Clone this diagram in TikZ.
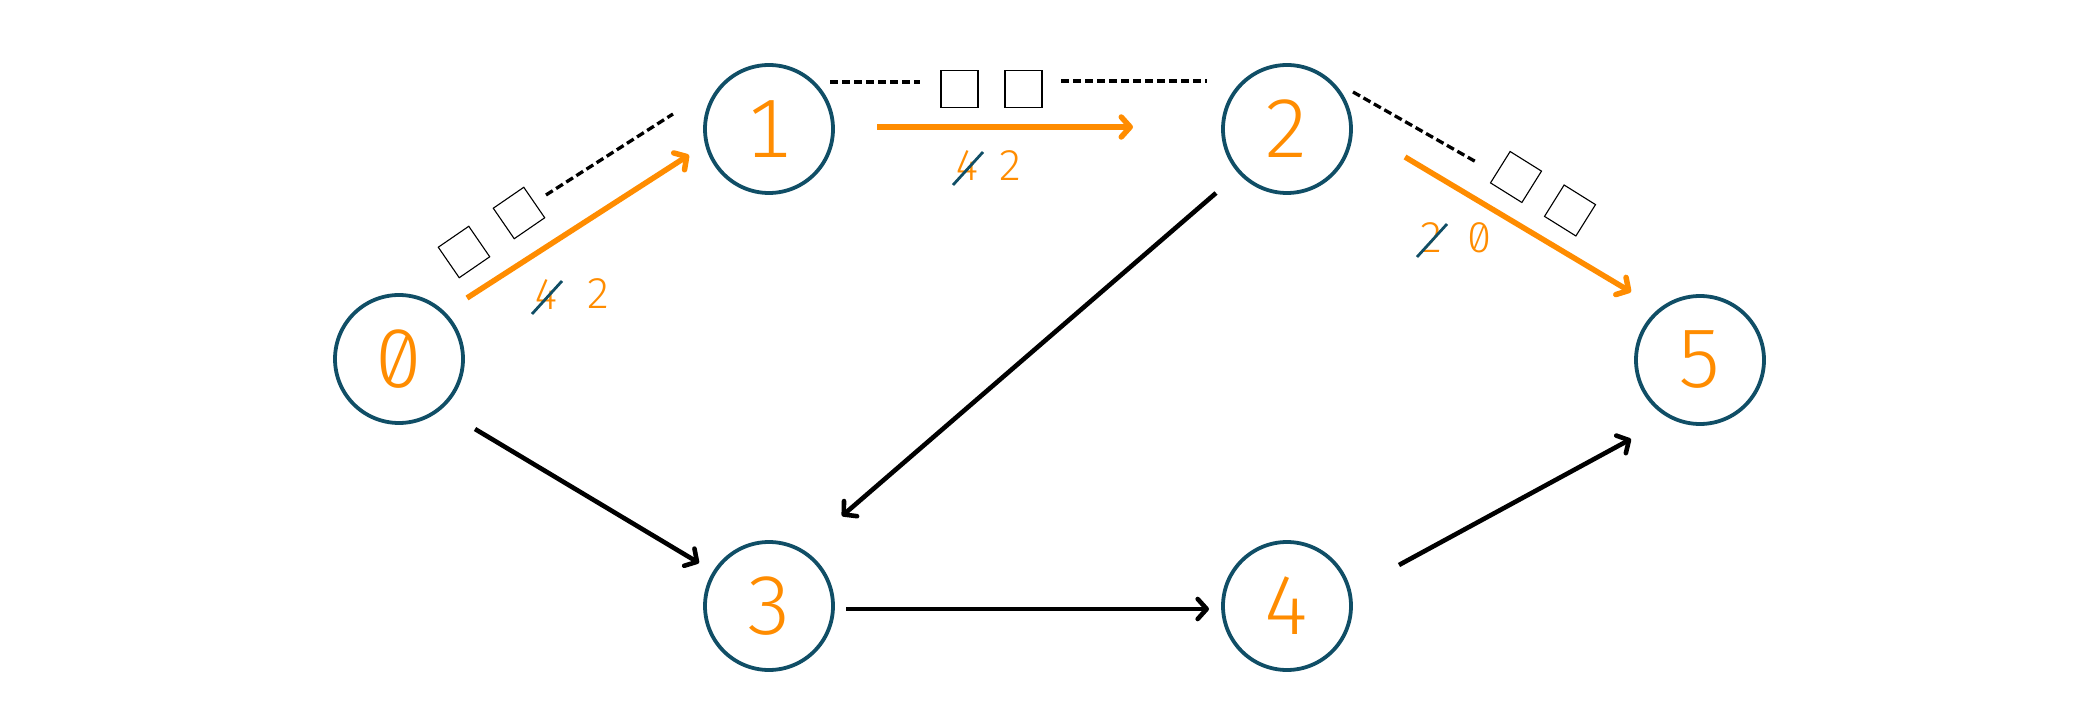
\documentclass[tikz,border=0pt]{standalone}
\usepackage{fontspec}
\setmainfont{Fira Sans}[UprightFont={* Light}, Numbers={Monospaced,SlashedZero}]
\usetikzlibrary{arrows.meta,calc}
\definecolor{nodeblue}{RGB}{16,78,102}
\definecolor{accent}{RGB}{255,140,0}
\begin{document}
\begin{tikzpicture}[x=1pt,y=1pt,
  vtx/.style={circle, draw=nodeblue, line width=3.8pt, minimum size=128pt, inner sep=0pt, text=accent, font=\fontsize{83}{90}\selectfont},
  tip/.style={-{Straight Barb[length=9pt,width=20pt,line cap=round,line join=round]}},
  blk/.style={line width=4.6pt, black, tip},
  hl/.style={line width=5.5pt, accent, tip},
  dsh/.style={line width=3.3pt, black, dash pattern=on 8pt off 4pt},
  pkt/.style={draw, line width=1.1pt, minimum size=37pt, inner sep=0pt},
  lbl/.style={text=accent, font=\fontsize{43}{50}\selectfont, inner sep=0pt},
  strike/.style={nodeblue, line width=2.8pt}]
\useasboundingbox (0,0) rectangle (2078,724);

% vertices
\node[vtx] (n0) at (399,365) {0};
\node[vtx] (n1) at (769,595) {1};
\node[vtx] (n2) at (1287,595) {2};
\node[vtx] (n3) at (769,118) {3};
\node[vtx] (n4) at (1287,118) {4};
\node[vtx] (n5) at (1700,364) {5};

% black edges
\draw[blk] ($(n0)+(76,-70)$) -- ($(n3)+(-70,43)$);
\draw[blk] ($(n2)+(-71,-64)$) -- ($(n3)+(73,90)$);
\draw[blk] ($(n3)+(77,-3)$) -- ($(n4)+(-78,-3)$);
\draw[blk] ($(n4)+(112,41)$) -- ($(n5)+(-69,-79)$);

% highlighted edges
\draw[hl] ($(n0)+(68,61)$) -- ($(n1)+(-80,-26)$);
\draw[hl] ($(n1)+(108,2)$) -- ($(n2)+(-154,2)$);
\draw[hl] ($(n2)+(118,-28)$) -- ($(n5)+(-69,68)$);

% dashed lines
\draw[dsh] ($(n0)+(147,164)$) -- ($(n1)+(-96,15)$);
\draw[dsh] ($(n1)+(61,47)$) -- ($(n1)+(151,47)$);
\draw[dsh] ($(n2)+(-226,48)$) -- ($(n2)+(-80,48)$);
\draw[dsh] ($(n2)+(66,37)$) -- ($(n2)+(191,-34)$);

% packets
\node[pkt, rotate=34.5] (s1) at (464,472) {};
\node[pkt, rotate=34.5] (s2) at (519,511) {};
\node[pkt] (s3) at (959.5,635) {};
\node[pkt] (s4) at (1023.5,635) {};
\node[pkt, rotate=-32] (s5) at (1516,547) {};
\node[pkt, rotate=-32] (s6) at (1570,513.5) {};

% labels
\node[lbl] (a1) at (547,429) {4};
\node[lbl] (a2) at (599,430) {2};
\draw[strike] ($(a1)+(-15,-19)$) -- ($(a1)+(15,14)$);
\node[lbl] (b1) at (968,558) {4};
\node[lbl] (b2) at (1011,558) {2};
\draw[strike] ($(b1)+(-15,-19)$) -- ($(b1)+(15,14)$);
\node[lbl] (c1) at (1432,486) {2};
\node[lbl] (c2) at (1480,486) {0};
\draw[strike] ($(c1)+(-15,-19)$) -- ($(c1)+(15,14)$);
\end{tikzpicture}
\end{document}
